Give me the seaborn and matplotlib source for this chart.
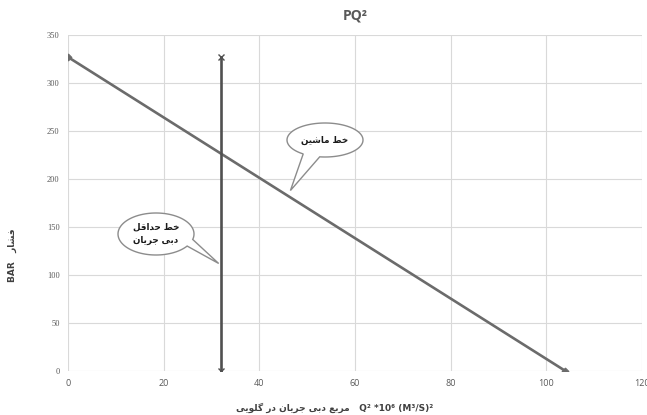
import numpy as np
import pandas as pd
import seaborn as sns
import matplotlib
matplotlib.use("Agg")
import matplotlib.pyplot as plt
from matplotlib.path import Path
from matplotlib.patches import PathPatch

# ---- data -------------------------------------------------------------
machine_q2 = [0, 104]          # Q^2 * 10^6 (m^3/s)^2
machine_p = [327, 0]           # pressure, bar
min_flow_q2 = [32, 32]
min_flow_p = [0, 327]

x_ticks = [0, 20, 40, 60, 80, 100, 120]
y_ticks = [0, 50, 100, 150, 200, 250, 300, 350]

title_text = "PQ²"
y_label_fa = "فشار"
y_label_en = "BAR"
x_label_fa = "مربع دبی جریان در گلویی"
x_label_en = "Q² *10⁶ (M³/S)²"
machine_note = "خط ماشین"
min_flow_note = ["خط حداقل", "دبی جریان"]

# ---- simple Persian shaping (presentation forms, visual order) ----------
FORMS = {
    "ا": ("\uFE8D", "\uFE8E"),
    "ب": ("\uFE8F", "\uFE90", "\uFE91", "\uFE92"),
    "ج": ("\uFE9D", "\uFE9E", "\uFE9F", "\uFEA0"),
    "ح": ("\uFEA1", "\uFEA2", "\uFEA3", "\uFEA4"),
    "خ": ("\uFEA5", "\uFEA6", "\uFEA7", "\uFEA8"),
    "د": ("\uFEA9", "\uFEAA"),
    "ر": ("\uFEAD", "\uFEAE"),
    "ش": ("\uFEB5", "\uFEB6", "\uFEB7", "\uFEB8"),
    "ط": ("\uFEC1", "\uFEC2", "\uFEC3", "\uFEC4"),
    "ع": ("\uFEC9", "\uFECA", "\uFECB", "\uFECC"),
    "ف": ("\uFED1", "\uFED2", "\uFED3", "\uFED4"),
    "ق": ("\uFED5", "\uFED6", "\uFED7", "\uFED8"),
    "ل": ("\uFEDD", "\uFEDE", "\uFEDF", "\uFEE0"),
    "م": ("\uFEE1", "\uFEE2", "\uFEE3", "\uFEE4"),
    "ن": ("\uFEE5", "\uFEE6", "\uFEE7", "\uFEE8"),
    "و": ("\uFEED", "\uFEEE"),
    "ی": ("\uFBFC", "\uFBFD", "\uFBFE", "\uFBFF"),
    "گ": ("\uFB92", "\uFB93", "\uFB94", "\uFB95"),
}


def shape_fa(text):
    chars = list(text)
    out = []
    for i, c in enumerate(chars):
        forms = FORMS.get(c)
        if forms is None:
            out.append(c)
            continue
        prev = chars[i - 1] if i > 0 else None
        nxt = chars[i + 1] if i + 1 < len(chars) else None
        join_prev = prev in FORMS and len(FORMS[prev]) == 4
        join_next = len(forms) == 4 and nxt in FORMS
        if join_prev and join_next:
            out.append(forms[3])
        elif join_prev:
            out.append(forms[1])
        elif join_next:
            out.append(forms[2])
        else:
            out.append(forms[0])
    return "".join(reversed(out))


# ---- figure -----------------------------------------------------------
sns.set_theme(style="whitegrid")
plt.rcParams["font.family"] = ["DejaVu Sans"]

W, H, DPI = 647, 415, 100
fig = plt.figure(figsize=(W / DPI, H / DPI), dpi=DPI)
ax = fig.add_axes([68 / W, 1 - 371 / H, (642 - 68) / W, (371 - 35) / H])

machine = pd.DataFrame({"q2": machine_q2, "p": machine_p})
min_flow = pd.DataFrame({"q2": min_flow_q2, "p": min_flow_p})

sns.lineplot(data=machine, x="q2", y="p", ax=ax, color="#6b6b6b", linewidth=1.9,
             marker="D", markersize=3.5, markeredgecolor="#6b6b6b",
             sort=False, estimator=None)
sns.lineplot(data=min_flow, x="q2", y="p", ax=ax, color="#505050", linewidth=1.9,
             marker="x", markersize=5, markeredgewidth=1.0, markeredgecolor="#505050",
             sort=False, estimator=None)

ax.set_xlim(0, 120)
ax.set_ylim(0, 350)
ax.set_xticks(x_ticks)
ax.set_yticks(y_ticks)
ax.grid(True, color="#d9d9d9", linewidth=0.8)
for s in ax.spines.values():
    s.set_visible(False)
ax.tick_params(axis="both", length=0, pad=6)
for lab in ax.get_xticklabels():
    lab.set_fontsize(6.5)
    lab.set_color("#595959")
    lab.set_fontfamily("Open Sans")
for lab in ax.get_yticklabels():
    lab.set_fontsize(6)
    lab.set_color("#595959")
    lab.set_fontfamily("Liberation Serif")
ax.set_xlabel("")
ax.set_ylabel("")

fig.text(355 / W, 1 - 15 / H, title_text, ha="center", va="center",
         fontsize=10, fontweight="bold", color="#595959", family="Open Sans")

fig.text(335 / W, 1 - 408 / H, shape_fa(x_label_fa) + "   " + x_label_en,
         ha="center", va="center", fontsize=6.5, color="#404040", fontweight="bold")
fig.text(12 / W, 1 - 255 / H, y_label_en + "   " + shape_fa(y_label_fa),
         ha="center", va="center", rotation=90, fontsize=6.5, color="#404040",
         fontweight="bold")


# ---- speech bubbles -----------------------------------------------------
def bubble(cx, cy, w, h, tip_xy, base_angles, lines):
    """Ellipse callout centred at pixel (cx, cy from top) with a tail to a data point."""
    tip = ax.transData.transform(tip_xy)
    cxd, cyd = cx, H - cy
    a0, a1 = np.radians(base_angles[0]), np.radians(base_angles[1])
    ts = np.linspace(a1, a0 + 2 * np.pi, 120)
    pts = [(cxd + w / 2 * np.cos(t), cyd + h / 2 * np.sin(t)) for t in ts]
    pts.append(tuple(tip))
    pts.append(pts[0])
    codes = [Path.MOVETO] + [Path.LINETO] * (len(pts) - 2) + [Path.CLOSEPOLY]
    patch = PathPatch(Path(pts, codes), transform=None, facecolor="white",
                      edgecolor="#8c8c8c", linewidth=1.0, zorder=5)
    fig.add_artist(patch)
    fig.text(cx / W, 1 - cy / H, "\n".join(shape_fa(t) for t in lines),
             ha="center", va="center", fontsize=6.3, fontweight="bold",
             color="#1a1a1a", linespacing=1.6, zorder=6)


bubble(156, 234, 76, 42, (31.5, 112), (-35, -15), min_flow_note)
bubble(325, 140, 76, 34, (46.5, 188), (-125, -98), [machine_note])

fig.savefig("out.png", dpi=DPI, facecolor="white")
